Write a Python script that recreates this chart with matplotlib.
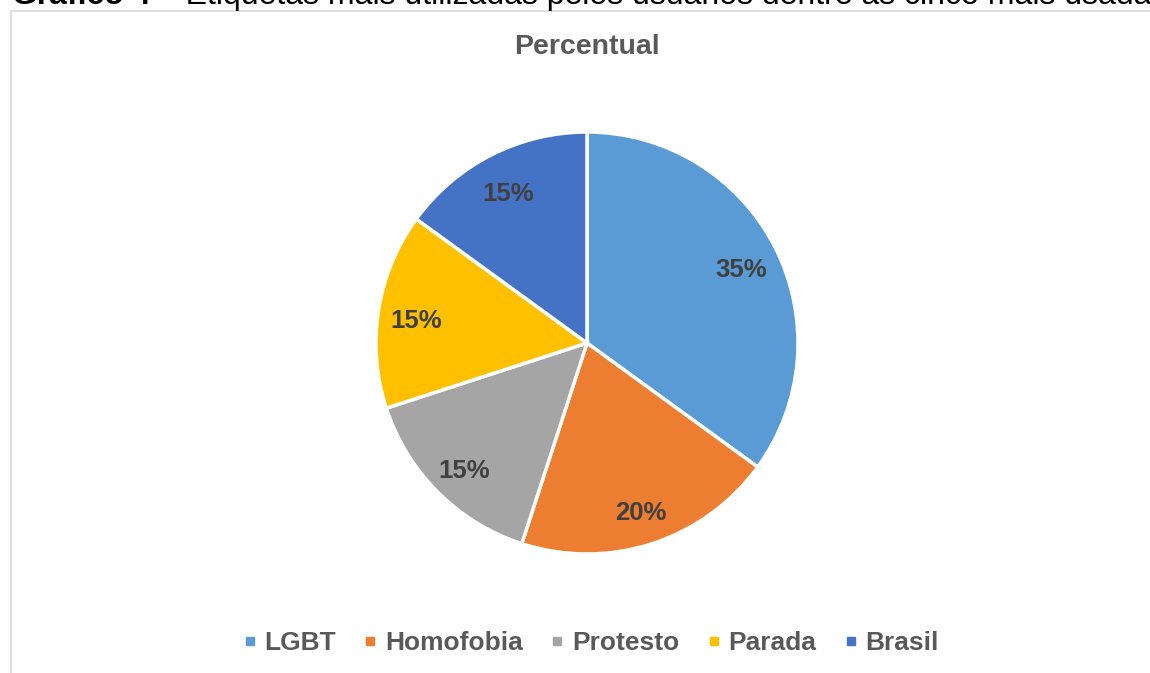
import matplotlib.pyplot as plt
from matplotlib.lines import Line2D
from matplotlib.patches import Rectangle

plt.rcParams['font.family'] = ['Liberation Sans', 'DejaVu Sans']

# data
labels = ['LGBT', 'Homofobia', 'Protesto', 'Parada', 'Brasil']
values = [35, 20, 15, 15, 15]
colors = ['#5B9BD5', '#ED7D31', '#A5A5A5', '#FFC000', '#4472C4']

W, H = 1150, 673
fig = plt.figure(figsize=(W / 100, H / 100), dpi=100)

# chart border (clipped on the right / bottom)
fig.patches.append(Rectangle((11 / W, -0.1), 1.2, 1 - 11 / H + 0.1,
                             transform=fig.transFigure, fill=False,
                             edgecolor='#D9D9D9', linewidth=1.2))

# caption cut off at the top of the picture
cap1 = fig.text(12 / W, 1 - 4 / H, 'Gráfico 4', fontsize=23, fontweight='bold',
                color='black', va='baseline', ha='left')
fig.canvas.draw()
x_end = cap1.get_window_extent().x1 / W
fig.text(x_end, 1 - 4 / H,
         ' – Etiquetas mais utilizadas pelos usuários dentre as cinco mais usadas',
         fontsize=23, color='black', va='baseline', ha='left')

fig.text(587 / W, 1 - 47 / H, 'Percentual', fontsize=20.5, fontweight='bold',
         color='#595959', ha='center', va='center')

# pie
cx, cy, r = 587, 343, 211
ax = fig.add_axes([(cx - r) / W, (H - cy - r) / H, 2 * r / W, 2 * r / H])
wedges, texts, autotexts = ax.pie(
    values, colors=colors, startangle=90, counterclock=False,
    autopct='%1.0f%%', pctdistance=0.82,
    wedgeprops=dict(edgecolor='white', linewidth=2.5),
    textprops=dict(fontsize=18.5, fontweight='bold', color='#404040'))
# excel centres labels a bit lower
for t in autotexts:
    x, y = t.get_position()
    t.set_position((x, y - 0.025))
ax.set_xlim(-1, 1)
ax.set_ylim(-1, 1)
ax.axis('off')

# legend
handles = [Line2D([], [], marker='s', linestyle='none', markersize=5.5,
                  markerfacecolor=c, markeredgecolor=c) for c in colors]
leg = fig.legend(handles, labels, loc='center', ncol=5,
                 bbox_to_anchor=(591 / W, 1 - 643 / H), frameon=False,
                 handlelength=0.5, handletextpad=0.32, columnspacing=1.04,
                 prop=dict(size=19, weight='bold'))
for t in leg.get_texts():
    t.set_color('#595959')

fig.savefig('out.png', dpi=100)
